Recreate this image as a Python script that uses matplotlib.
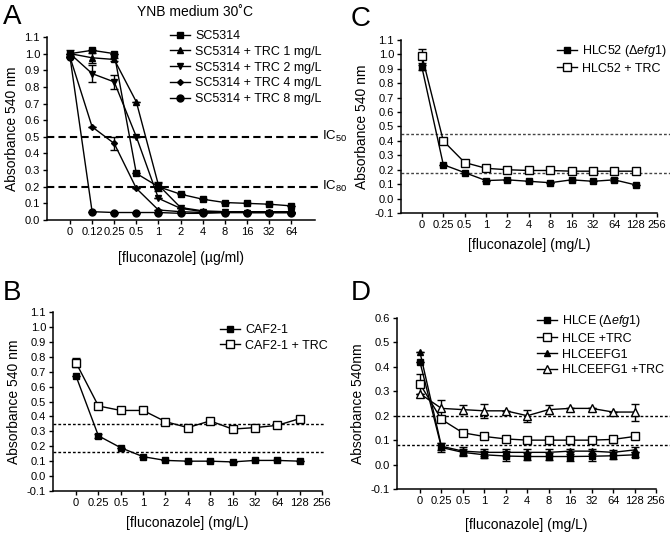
# Fluconazole dose-response panels A-D

import numpy as np
import matplotlib
matplotlib.use('Agg')
import matplotlib.pyplot as plt
from matplotlib.lines import Line2D

plt.rcParams['font.family'] = ['Liberation Sans', 'DejaVu Sans']
plt.rcParams['mathtext.fontset'] = 'custom'
plt.rcParams['mathtext.rm'] = 'Liberation Sans'
plt.rcParams['mathtext.it'] = 'Liberation Sans:italic'

# ---- data ----
# panel A: x = 0, 0.12, 0.25, 0.5, 1, 2, 4, 8, 16, 32, 64 ug/ml
a_ticks = ['0', '0.12', '0.25', '0.5', '1', '2', '4', '8', '16', '32', '64']
a_sc5314 = [1.00, 1.02, 1.00, 0.28, 0.20, 0.155, 0.125, 0.105, 0.10, 0.095, 0.085]
a_sc5314_err = [0.02, 0, 0, 0, 0.025, 0, 0, 0, 0, 0, 0]
a_trc1 = [1.00, 0.975, 0.965, 0.71, 0.21, 0.075, 0.055, 0.05, 0.05, 0.05, 0.05]
a_trc1_err = [0, 0.03, 0.01, 0, 0.02, 0, 0, 0, 0, 0, 0]
a_trc2 = [1.00, 0.88, 0.83, 0.50, 0.13, 0.07, 0.05, 0.05, 0.045, 0.045, 0.045]
a_trc2_err = [0, 0.05, 0.04, 0, 0, 0, 0, 0, 0, 0, 0]
a_trc4 = [0.98, 0.56, 0.46, 0.19, 0.06, 0.05, 0.045, 0.045, 0.045, 0.045, 0.045]
a_trc4_err = [0, 0, 0.04, 0, 0, 0, 0, 0, 0, 0, 0]
a_trc8 = [0.98, 0.05, 0.045, 0.045, 0.045, 0.04, 0.04, 0.045, 0.045, 0.045, 0.045]
a_trc8_err = [0] * 11
a_ic = [0.5, 0.2]
a_ic_labels = ['IC$_{50}$', 'IC$_{80}$']

# panels B-D: x = 0, 0.25 ... 128 mg/L (256 is only a tick)
mg_ticks = ['0', '0.25', '0.5', '1', '2', '4', '8', '16', '32', '64', '128', '256']

b_caf = [0.67, 0.27, 0.19, 0.13, 0.105, 0.10, 0.10, 0.095, 0.105, 0.105, 0.10]
b_caf_err = [0, 0.015, 0, 0, 0, 0, 0, 0, 0, 0, 0]
b_caf_trc = [0.76, 0.47, 0.44, 0.44, 0.365, 0.325, 0.37, 0.315, 0.325, 0.34, 0.385]
b_caf_trc_err = [0.03, 0, 0, 0, 0, 0.01, 0, 0, 0.01, 0, 0]
b_ref = [0.35, 0.16]

c_hlc = [0.91, 0.235, 0.18, 0.125, 0.13, 0.12, 0.11, 0.13, 0.12, 0.13, 0.095]
c_hlc_err = [0.02, 0, 0, 0, 0, 0, 0, 0, 0, 0.01, 0]
c_hlc_trc = [0.99, 0.40, 0.25, 0.21, 0.20, 0.195, 0.195, 0.19, 0.19, 0.19, 0.19]
c_hlc_trc_err = [0.05, 0, 0, 0, 0, 0, 0, 0, 0, 0, 0]
c_ref = [0.45, 0.18]

d_hlce = [0.42, 0.07, 0.05, 0.04, 0.035, 0.033, 0.033, 0.033, 0.034, 0.036, 0.04]
d_hlce_err = [0, 0.02, 0.015, 0.015, 0.02, 0.015, 0.015, 0.02, 0.02, 0.015, 0.01]
d_hlce_trc = [0.33, 0.185, 0.13, 0.115, 0.105, 0.10, 0.10, 0.10, 0.10, 0.103, 0.115]
d_hlce_trc_err = [0.04, 0.01, 0, 0, 0, 0, 0, 0, 0, 0.015, 0]
d_efg = [0.46, 0.075, 0.055, 0.05, 0.05, 0.05, 0.05, 0.055, 0.055, 0.05, 0.06]
d_efg_err = [0, 0.015, 0.015, 0.015, 0.015, 0.015, 0.015, 0.01, 0.01, 0.01, 0.01]
d_efg_trc = [0.29, 0.23, 0.225, 0.22, 0.22, 0.20, 0.225, 0.23, 0.23, 0.215, 0.215]
d_efg_trc_err = [0, 0.035, 0.02, 0.03, 0, 0.025, 0.02, 0, 0, 0, 0.035]
d_ref = [0.20, 0.08]

W, H = 670, 537
fig = plt.figure(figsize=(6.7, 5.37), dpi=100)


def box(l, t, r, b):
    # pixel box -> figure fraction
    return [l / W, 1 - b / H, (r - l) / W, (b - t) / H]


def style(ax, ticks, ylim, yticks, xlim, xlabel, ylabel, xlabelpad):
    ax.set_xlim(*xlim)
    ax.set_ylim(*ylim)
    ax.set_xticks(range(len(ticks)))
    ax.set_xticklabels(ticks)
    ax.set_yticks(yticks)
    ax.set_yticklabels(['%.1f' % v for v in yticks])
    for s in ['top', 'right']:
        ax.spines[s].set_visible(False)
    for s in ['left', 'bottom']:
        ax.spines[s].set_linewidth(1.1)
    ax.tick_params(direction='out', length=3, width=1, labelsize=8, pad=2)
    ax.set_xlabel(xlabel, fontsize=10, labelpad=xlabelpad)
    ax.set_ylabel(ylabel, fontsize=10, labelpad=4)


def series(ax, y, err, marker, filled, label, ms=5):
    x = np.arange(len(y))
    fc = 'black' if filled else 'white'
    ax.errorbar(x, y, yerr=err, color='black', lw=1, marker=marker, ms=ms,
                mfc=fc, mec='black', mew=1, capsize=3, elinewidth=1,
                capthick=1, clip_on=False, zorder=3)
    # legend handle without the error bar
    return Line2D([], [], color='black', lw=1, marker=marker, ms=ms, mfc=fc,
                  mec='black', mew=1, label=label)


def legend(ax, handles, px, py):
    ax.legend(handles=handles, loc='upper left', bbox_to_anchor=(px / W, 1 - py / H),
              bbox_transform=fig.transFigure, frameon=False, fontsize=9,
              borderpad=0, borderaxespad=0, handlelength=1.6,
              handletextpad=0.4, labelspacing=0.3)


# ---- panel A ----
axA = fig.add_axes(box(47, 37, 315, 220))
hA = [series(axA, a_sc5314, a_sc5314_err, 's', True, 'SC5314'),
      series(axA, a_trc1, a_trc1_err, '^', True, 'SC5314 + TRC 1 mg/L'),
      series(axA, a_trc2, a_trc2_err, 'v', True, 'SC5314 + TRC 2 mg/L'),
      series(axA, a_trc4, a_trc4_err, 'D', True, 'SC5314 + TRC 4 mg/L', ms=3),
      series(axA, a_trc8, a_trc8_err, 'o', True, 'SC5314 + TRC 8 mg/L')]
for v, lab in zip(a_ic, a_ic_labels):
    axA.axhline(v, xmin=0, xmax=1.01, color='black', lw=1.5, ls=(0, (3.5, 2)),
                clip_on=False, zorder=1)
    axA.text(1.025, v, lab, transform=axA.get_yaxis_transform(), fontsize=9.5,
             va='center', ha='left')
style(axA, a_ticks, (0, 1.1), np.arange(0, 1.11, 0.1), (-1.04, 11.08),
      '[fluconazole] (µg/ml)', 'Absorbance 540 nm', 10)
legend(axA, hA, 170, 30)

# ---- panel B ----
axB = fig.add_axes(box(53, 312, 322, 491))
hB = [series(axB, b_caf, b_caf_err, 's', True, 'CAF2-1'),
      series(axB, b_caf_trc, b_caf_trc_err, 's', False, 'CAF2-1 + TRC', ms=6)]
for v in b_ref:
    axB.axhline(v, xmin=0, xmax=1.01, color='black', lw=1, ls=(0, (2, 1.5)),
                clip_on=False, zorder=1)
style(axB, mg_ticks, (-0.1, 1.1), np.arange(-0.1, 1.11, 0.1), (-1.03, 11),
      '[fluconazole] (mg/L)', 'Absorbance 540 nm', 6)
legend(axB, hB, 220, 324)

# ---- panel C ----
axC = fig.add_axes(box(401, 40, 657, 213))
hC = [series(axC, c_hlc, c_hlc_err, 's', True, r'HLC52 ($\mathit{\Delta efg1}$)'),
      series(axC, c_hlc_trc, c_hlc_trc_err, 's', False, 'HLC52 + TRC', ms=6)]
for v in c_ref:
    axC.axhline(v, xmin=0, xmax=1.055, color='#444444', lw=1, ls=(0, (2, 1.5)),
                clip_on=False, zorder=1)
style(axC, mg_ticks, (-0.1, 1.1), np.arange(-0.1, 1.11, 0.1), (-0.98, 11),
      '[fluconazole] (mg/L)', 'Absorbance 540 nm', 6)
legend(axC, hC, 557, 43)

# ---- panel D ----
axD = fig.add_axes(box(397, 318, 656, 489))
hD = [series(axD, d_hlce, d_hlce_err, 's', True, r'HLCE ($\mathit{\Delta efg1}$)'),
      series(axD, d_hlce_trc, d_hlce_trc_err, 's', False, 'HLCE +TRC', ms=6),
      series(axD, d_efg, d_efg_err, '^', True, 'HLCEEFG1'),
      series(axD, d_efg_trc, d_efg_trc_err, '^', False, 'HLCEEFG1 +TRC', ms=6)]
for v in d_ref:
    axD.axhline(v, xmin=0, xmax=1.055, color='black', lw=1, ls=(0, (2, 1.5)),
                clip_on=False, zorder=1)
style(axD, mg_ticks, (-0.1, 0.6), np.arange(-0.1, 0.61, 0.1), (-1.07, 11),
      '[fluconazole] (mg/L)', 'Absorbance 540nm', 9)
legend(axD, hD, 537, 313)

# panel letters and title
for lab, px, py in [('A', 3, 4), ('B', 3, 280), ('C', 351, 6), ('D', 351, 280)]:
    fig.text(px / W, 1 - py / H, lab, fontsize=20, ha='left', va='top')
fig.text(195 / W, 1 - 12 / H, 'YNB medium 30˚C', fontsize=10, ha='center',
         va='center')

fig.savefig('out.png', dpi=100)
